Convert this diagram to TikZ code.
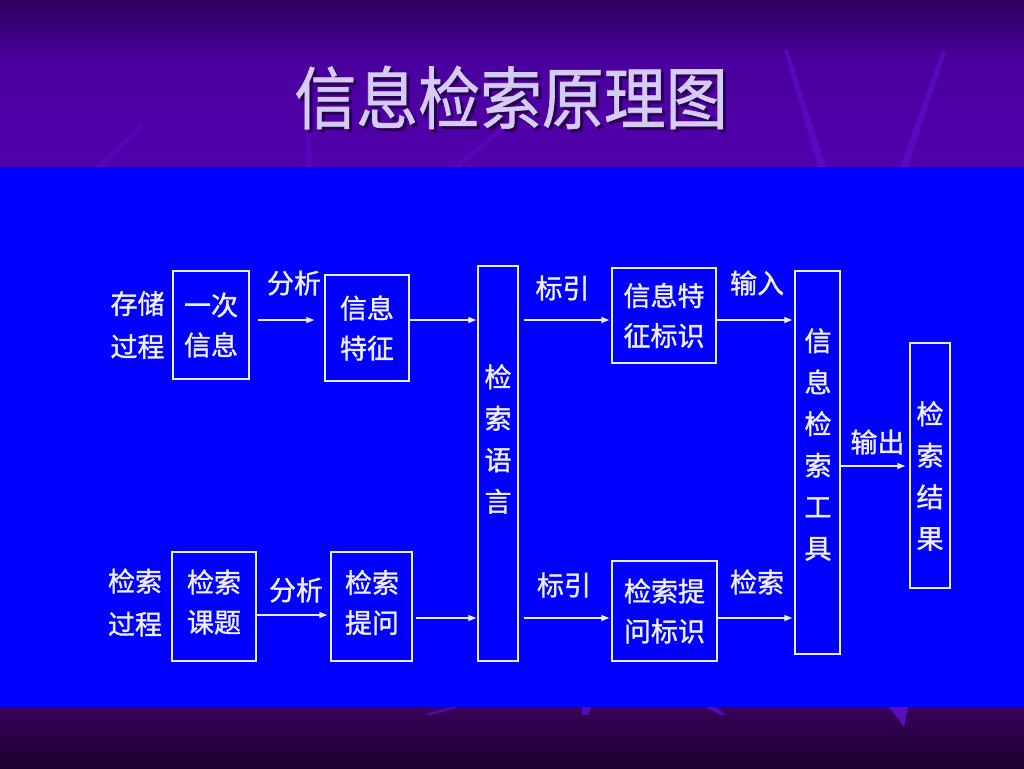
\documentclass[tikz,border=0pt]{standalone}
\usepackage{fontspec}
\newfontfamily\cjk[FakeBold=1.3]{Noto Sans CJK SC}
\newfontfamily\cjktitle[FakeBold=1.0]{Noto Sans CJK SC}
\usetikzlibrary{arrows.meta}
\definecolor{bgblue}{HTML}{0000FF}
\definecolor{topdark}{HTML}{2C0060}
\definecolor{topmid}{HTML}{4A009E}
\definecolor{toplow}{HTML}{5200AC}
\definecolor{botdark}{HTML}{1A002E}
\definecolor{bottop}{HTML}{38005A}
\definecolor{streak}{HTML}{6410D8}
\definecolor{linec}{HTML}{ECECFF}
\definecolor{txtc}{HTML}{EEEEFF}
\definecolor{titlec}{HTML}{D4CCF4}
\definecolor{shadowc}{HTML}{2A0056}
\tikzset{
  box/.style={draw=linec, line width=1.5pt, inner sep=0pt, align=center,
    text=txtc, font=\cjk\fontsize{27}{40}\selectfont},
  lab/.style={inner sep=0pt, align=center, text=txtc, font=\cjk\fontsize{27}{43}\selectfont},
  vtxt/.style={inner sep=0pt, align=center, text=txtc, font=\cjk\fontsize{27}{41.5}\selectfont},
  arr/.style={draw=linec, line width=1.4pt, -{Triangle[length=8pt,width=6pt]}},
  ttl/.style={inner sep=0pt, font=\cjktitle\fontsize{68}{68}\selectfont},
}
\begin{document}
\begin{tikzpicture}[x=1pt,y=-1pt]
\useasboundingbox (0,0) rectangle (1024,768);
% background
\shade[top color=topdark, bottom color=topmid] (0,0) rectangle (1024,60);
\shade[top color=topmid, bottom color=toplow] (0,60) rectangle (1024,167);
\shade[top color=bottop, bottom color=botdark] (0,707) rectangle (1024,768);
% streaks
\fill[streak, opacity=0.55] (784,50) -- (788,50) -- (826,167) -- (818,167) -- cycle;
\fill[streak, opacity=0.55] (942,50) -- (946,52) -- (908,167) -- (900,167) -- cycle;
\fill[streak, opacity=0.35] (306,110) -- (310,110) -- (312,167) -- (306,167) -- cycle;
\fill[streak, opacity=0.35] (452,167) -- (500,128) -- (503,131) -- (460,167) -- cycle;
\fill[streak, opacity=0.35] (95,167) -- (140,125) -- (143,128) -- (103,167) -- cycle;
\fill[streak, opacity=0.7] (425,714) -- (452,707) -- (458,707) -- (430,715) -- cycle;
\fill[streak, opacity=0.7] (582,707) -- (591,707) -- (588,715) -- (582,715) -- cycle;
\fill[streak, opacity=0.7] (706,707) -- (716,707) -- (726,715) -- (720,715) -- cycle;
\fill[streak, opacity=0.8] (889,707) -- (908,707) -- (904,727) -- cycle;
% blue panel
\fill[bgblue] (0,167) rectangle (1024,707);
% title with shadow
\node[ttl, text=shadowc] (tshadow) at (514,100.5) {\scalebox{0.91}[1]{信息检索原理图}};
\node[ttl, text=titlec] (title) at (511,97.5) {\scalebox{0.91}[1]{信息检索原理图}};
% boxes
\node[box, minimum width=76pt, minimum height=108pt] (b1) at (211,325) {一次\\信息};
\node[box, minimum width=84pt, minimum height=106pt] (b2) at (367,328) {信息\\特征};
\node[box, minimum width=40pt, minimum height=395pt] (b3) at (498,463.5) {};
\node[box, minimum width=104pt, minimum height=95pt] (b4) at (664,315.5) {信息特\\征标识};
\node[box, minimum width=45pt, minimum height=383pt] (b5) at (817.5,462.5) {};
\node[box, minimum width=40pt, minimum height=245pt] (b6) at (930,465.5) {};
\node[box, minimum width=84pt, minimum height=109pt] (b7) at (214,606.5) {};
\node[box, minimum width=81pt, minimum height=109pt] (b8) at (371.5,606.5) {};
\node[box, minimum width=105pt, minimum height=100pt] (b9) at (664.5,611) {检索提\\问标识};
% texts inside boxes with offsets
\node[vtxt] (t3) at (498,439) {检\\索\\语\\言};
\node[vtxt] (t5) at (818,444.5) {信\\息\\检\\索\\工\\具};
\node[vtxt] (t6) at (930,476) {检\\索\\结\\果};
\node[lab, font=\cjk\fontsize{27}{40}\selectfont] (t7) at (214,602) {检索\\课题};
\node[lab, font=\cjk\fontsize{27}{40}\selectfont] (t8) at (372,602.5) {检索\\提问};
% side labels
\node[lab] (l1) at (137.5,325) {存储\\过程};
\node[lab] (l2) at (135,602.5) {检索\\过程};
\node[lab] (a1) at (294,283) {分析};
\node[lab] (a2) at (296,590) {分析};
\node[lab] (a3) at (562.5,288) {标引};
\node[lab] (a4) at (564,585) {标引};
\node[lab] (a5) at (757,283) {输入};
\node[lab] (a6) at (757,582) {检索};
\node[lab] (a7) at (877.5,442) {输出};
% rows
\coordinate (r1) at (0,320);
\coordinate (r2a) at (0,615);
\coordinate (r2) at (0,618);
\coordinate (r3) at (0,466);
% arrows
\draw[arr, shorten <=8pt, shorten >=10pt] (b1.east |- r1) -- (b2.west |- r1);
\draw[arr, shorten >=1pt] (b2.east |- r1) -- (b3.west |- r1);
\draw[arr, shorten <=5pt, shorten >=2pt] (b3.east |- r1) -- (b4.west |- r1);
\draw[arr, shorten >=2pt] (b4.east |- r1) -- (b5.west |- r1);
\draw[arr, shorten >=3pt] (b7.east |- r2a) -- (b8.west |- r2a);
\draw[arr, shorten <=3pt, shorten >=1pt] (b8.east |- r2) -- (b3.west |- r2);
\draw[arr, shorten <=5pt, shorten >=2pt] (b3.east |- r2) -- (b9.west |- r2);
\draw[arr, shorten >=2pt] (b9.east |- r2) -- (b5.west |- r2);
\draw[arr, shorten >=4pt] (b5.east |- r3) -- (b6.west |- r3);
\end{tikzpicture}
\end{document}
